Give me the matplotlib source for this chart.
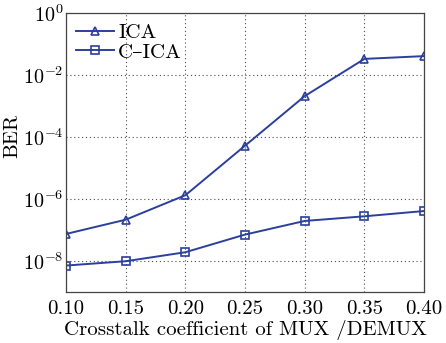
import matplotlib
matplotlib.use("Agg")
import matplotlib.pyplot as plt
import numpy as np

x = [0.10, 0.15, 0.20, 0.25, 0.30, 0.35, 0.40]
ica_log = [-7.13, -6.67, -5.88, -4.28, -2.68, -1.48, -1.39]
cica_log = [-8.15, -8.01, -7.72, -7.15, -6.71, -6.56, -6.39]
ica = [10 ** v for v in ica_log]
cica = [10 ** v for v in cica_log]
xticks = [0.10, 0.15, 0.20, 0.25, 0.30, 0.35, 0.40]
xticklabels = ["0.10", "0.15", "0.20", "0.25", "0.30", "0.35", "0.40"]
yticks = [1e-8, 1e-6, 1e-4, 1e-2, 1e0]
yticklabels = [r"$10^{-8}$", r"$10^{-6}$", r"$10^{-4}$", r"$10^{-2}$", r"$10^{0}$"]

plt.rcParams["font.family"] = ["cmr10", "DejaVu Serif"]
plt.rcParams["mathtext.fontset"] = "cm"
plt.rcParams["axes.formatter.use_mathtext"] = True

fig = plt.figure(figsize=(4.46, 3.43), dpi=100)
ax = fig.add_axes([0.148, 0.149, 0.803, 0.813])
col = "#2b3f9e"
ax.plot(x, ica, color=col, lw=1.4, marker="^", ms=6, mfc="none", mec=col, mew=1.2, label="ICA")
ax.plot(x, cica, color=col, lw=1.4, marker="s", ms=5.5, mfc="none", mec=col, mew=1.2, label="C\u2013ICA")
ax.set_yscale("log")
ax.set_xlim(0.10, 0.40)
ax.set_ylim(1e-9, 1e0)
ax.set_xticks(xticks)
ax.set_xticklabels(xticklabels, fontsize=15)
ax.set_yticks(yticks)
ax.set_yticklabels(yticklabels, fontsize=14.5)
ax.yaxis.set_minor_locator(matplotlib.ticker.NullLocator())
ax.grid(True, which="major", linestyle=(0, (1, 2.5)), color="black", lw=0.8, alpha=0.7)
ax.tick_params(axis="y", length=0, pad=2)
ax.tick_params(axis="x", length=0, pad=6)
for s in ax.spines.values():
    s.set_color("#444444")
    s.set_linewidth(0.9)
ax.set_xlabel("Crosstalk coefficient of MUX /DEMUX", fontsize=15, labelpad=1)
ax.set_ylabel("BER", fontsize=15)
ax.yaxis.set_label_coords(-0.126, 0.56)
leg = ax.legend(loc="upper left", frameon=False, fontsize=15, handlelength=1.8,
                handletextpad=0.2, borderaxespad=0.1, labelspacing=0.05)
fig.savefig("out.png", dpi=100)
